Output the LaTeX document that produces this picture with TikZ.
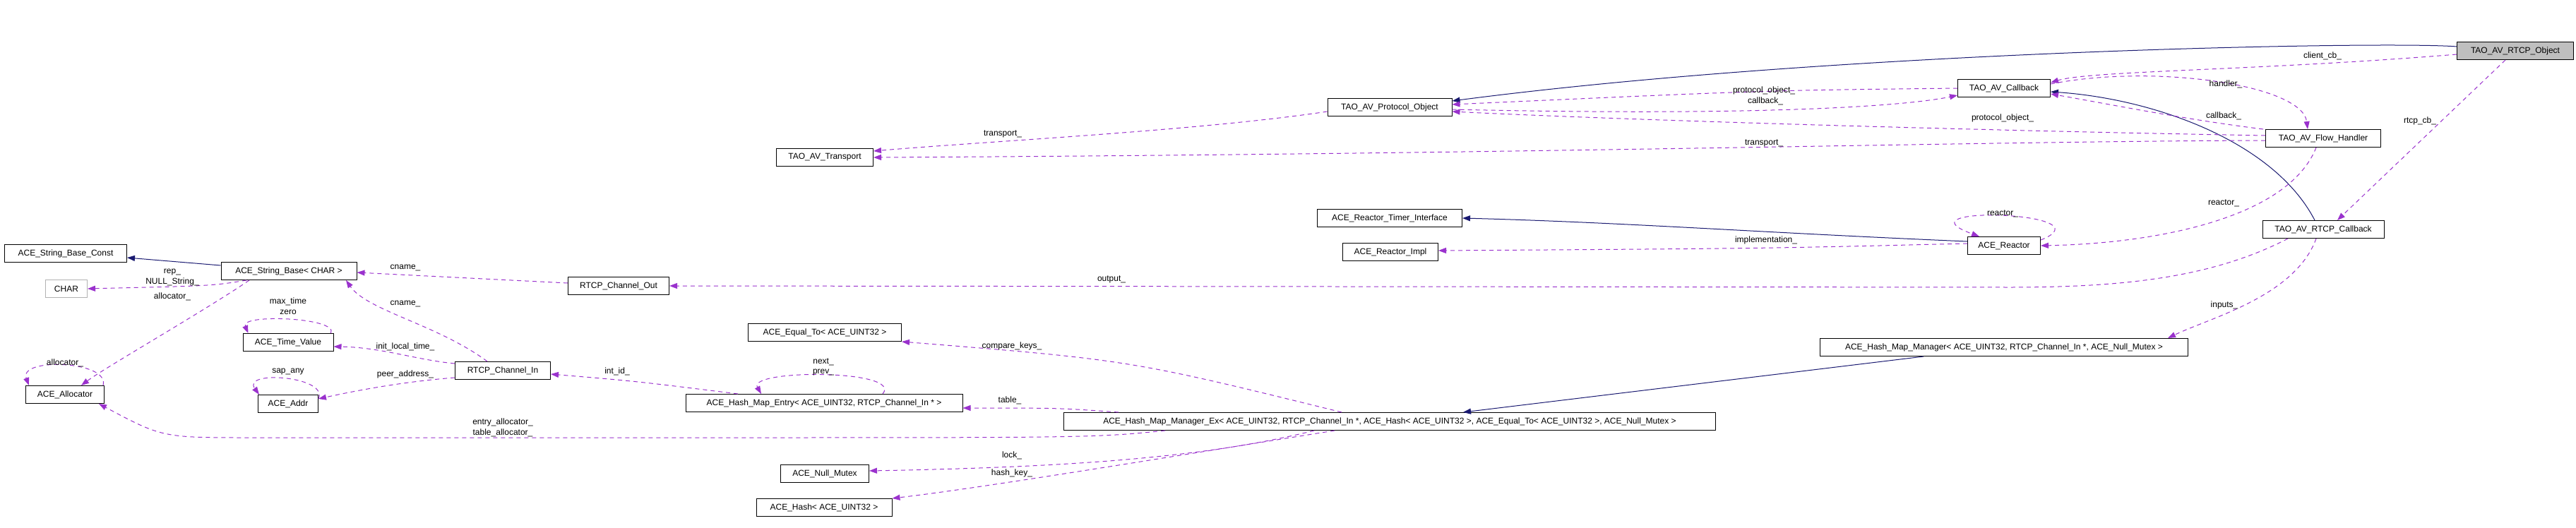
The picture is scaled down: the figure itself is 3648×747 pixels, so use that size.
\documentclass[tikz,border=0pt]{standalone}
\usepackage{fontspec}
\setmainfont{Liberation Sans}
\usetikzlibrary{arrows.meta}
\definecolor{dep}{HTML}{9A32CD}
\definecolor{inh}{HTML}{191970}
\begin{document}
\begin{tikzpicture}[x=1pt,y=-1pt,
  box/.style={draw,fill=white,minimum height=25pt,inner sep=0pt,font=\fontsize{12}{13}\selectfont,line width=1pt},
  lbl/.style={font=\fontsize{12}{13}\selectfont,inner sep=0pt},
  depl/.style={draw=dep,dash pattern=on 6pt off 5pt,line width=1pt,-{Triangle[length=11pt,width=8pt,fill=dep]}},
  inhl/.style={draw=inh,line width=1pt,-{Triangle[length=11pt,width=8pt,fill=inh]}}]
\useasboundingbox (0,0) rectangle (3648,747);
% nodes
\node[box,minimum width=165pt,fill=black!25] (rtcpobj) at (3562,72) {TAO\_AV\_RTCP\_Object};
\node[box,minimum width=131pt] (cb) at (2838,125) {TAO\_AV\_Callback};
\node[box,minimum width=176pt] (proto) at (1968,152) {TAO\_AV\_Protocol\_Object};
\node[box,minimum width=163pt] (flow) at (3290,196) {TAO\_AV\_Flow\_Handler};
\node[box,minimum width=137pt] (transport) at (1168,223) {TAO\_AV\_Transport};
\node[box,minimum width=205pt] (rti) at (1968,309) {ACE\_Reactor\_Timer\_Interface};
\node[box,minimum width=135pt] (rimpl) at (1969,357) {ACE\_Reactor\_Impl};
\node[box,minimum width=103pt] (reactor) at (2838,348) {ACE\_Reactor};
\node[box,minimum width=172pt] (rtcpcb) at (3290,325) {TAO\_AV\_RTCP\_Callback};
\node[box,minimum width=521pt] (hmm) at (2838,492) {ACE\_Hash\_Map\_Manager< ACE\_UINT32, RTCP\_Channel\_In *, ACE\_Null\_Mutex >};
\node[box,minimum width=923pt] (hmmex) at (1968,597) {ACE\_Hash\_Map\_Manager\_Ex< ACE\_UINT32, RTCP\_Channel\_In *, ACE\_Hash< ACE\_UINT32 >, ACE\_Equal\_To< ACE\_UINT32 >, ACE\_Null\_Mutex >};
\node[box,minimum width=217pt] (equal) at (1168,471) {ACE\_Equal\_To< ACE\_UINT32 >};
\node[box,minimum width=392pt] (entry) at (1167,571) {ACE\_Hash\_Map\_Entry< ACE\_UINT32, RTCP\_Channel\_In * >};
\node[box,minimum width=125pt] (nullmx) at (1168,671) {ACE\_Null\_Mutex};
\node[box,minimum width=192pt] (hash) at (1167,719) {ACE\_Hash< ACE\_UINT32 >};
\node[box,minimum width=143pt] (out) at (876,405) {RTCP\_Channel\_Out};
\node[box,minimum width=135pt] (chin) at (712,525) {RTCP\_Channel\_In};
\node[box,minimum width=173pt] (sbc) at (93,359) {ACE\_String\_Base\_Const};
\node[box,minimum width=192pt] (sb) at (409,384) {ACE\_String\_Base< CHAR >};
\node[box,minimum width=59pt,draw=black!30] (char) at (94,409) {CHAR};
\node[box,minimum width=111pt] (alloc) at (92,559) {ACE\_Allocator};
\node[box,minimum width=128pt] (tv) at (408,485) {ACE\_Time\_Value};
\node[box,minimum width=85pt] (addr) at (408,572) {ACE\_Addr};
% inheritance
\draw[inhl] ([yshift=6pt]rtcpobj.west) .. controls (3380,58) and (2600,72) .. ([yshift=-4pt]proto.north east);
\draw[inhl] ([xshift=-12pt]rtcpcb.north) .. controls (3220,200) and (3050,140) .. ([yshift=-5pt]cb.east);
\draw[inhl] ([yshift=6pt]reactor.west) .. controls (2500,330) and (2300,315) .. (rti.east);
\draw[inhl] ([yshift=8pt]sb.west) -- ([yshift=-6pt]sbc.east);
\draw[inhl] ([xshift=-114pt]hmm.south) -- ([xshift=104pt]hmmex.north);
% dependencies
\draw[depl] ([yshift=-5pt]rtcpobj.west) .. controls (3200,100) and (2960,100) .. ([yshift=8pt]cb.east);
\draw[depl] ([xshift=-14pt]rtcpobj.south) -- ([xshift=20pt]rtcpcb.north);
\draw[depl] (cb.west) .. controls (2500,128) .. ([yshift=4pt]proto.east);
\draw[depl] ([yshift=-3pt]proto.east) .. controls (2500,165) and (2700,150) .. ([yshift=-10pt]cb.west);
\draw[depl] ([yshift=6pt]cb.east) .. controls (3050,90) and (3260,120) .. ([xshift=-22pt]flow.north);
\draw[depl] ([xshift=-3pt]flow.north west) .. controls (3100,170) and (3000,150) .. ([yshift=-8pt]cb.east);
\draw[depl] ([yshift=4pt]flow.west) .. controls (2800,185) and (2300,170) .. ([yshift=-6pt]proto.east);
\draw[depl] ([yshift=-3pt]flow.west) .. controls (2800,200) and (2200,218) .. (transport.east);
\draw[depl] ([yshift=-6pt]proto.west) .. controls (1700,185) and (1400,200) .. ([yshift=9pt]transport.east);
\draw[depl] ([xshift=-10pt]flow.south) .. controls (3240,310) and (3050,345) .. (reactor.east);
\draw[depl] ([yshift=8pt]reactor.east) .. controls (2990,300) and (2680,290) .. ([xshift=-35pt]reactor.north);
\draw[depl] ([yshift=3pt]reactor.west) .. controls (2500,352) .. ([yshift=2pt]rimpl.east);
\draw[depl] ([xshift=-50pt]rtcpcb.south) .. controls (3130,395) and (3000,407) .. (2845,407) -- (out.east);
\draw[depl] ([xshift=-10pt]rtcpcb.south) .. controls (3250,420) and (3130,450) .. ([xshift=232pt]hmm.north);
\draw[depl] ([yshift=4pt]out.west) -- ([yshift=-2pt]sb.east);
\draw[depl] ([xshift=-22pt]chin.north) .. controls (620,460) and (520,440) .. ([xshift=81pt]sb.south);
\draw[depl] ([yshift=10pt]chin.west) .. controls (590,510) and (540,492) .. ([yshift=-6pt]tv.east);
\draw[depl] ([yshift=-10pt]chin.west) .. controls (580,540) and (520,550) .. ([yshift=7pt]addr.east);
\draw[depl] ([xshift=-4pt]tv.north east) .. controls +(12,-22) and +(-12,-28) .. ([xshift=8pt]tv.north west);
\draw[depl] ([yshift=-6pt]addr.north east) .. controls +(15,-32) and +(-25,-35) .. ([xshift=2pt]addr.north west);
\draw[depl] ([xshift=-60pt]sb.south) .. controls (300,405) .. (char.east);
\draw[depl] ([xshift=-56pt]sb.south) .. controls (290,440) and (150,520) .. ([xshift=23pt]alloc.north);
\draw[depl] ([xshift=-2pt]alloc.north east) .. controls +(10,-35) and +(-15,-40) .. ([xshift=5pt]alloc.north west);
\draw[depl] ([xshift=-122pt]entry.north) .. controls (900,540) .. ([yshift=-5pt]chin.east);
\draw[depl] ([xshift=83pt]entry.north) .. controls +(30,-35) and +(-20,-35) .. ([xshift=-89pt]entry.north);
\draw[depl] ([xshift=-384pt]hmmex.north) .. controls (1500,578) .. ([yshift=-7pt]entry.east);
\draw[depl] ([xshift=-68pt]hmmex.north) .. controls (1600,510) .. (equal.south east);
\draw[depl] ([xshift=-318pt]hmmex.south) .. controls (1550,620) .. (1000,620) -- (355,620) .. controls (230,620) .. ([xshift=48pt]alloc.south);
\draw[depl] ([xshift=-107pt]hmmex.south) .. controls (1700,650) and (1500,662) .. ([yshift=4pt]nullmx.east);
\draw[depl] ([xshift=-78pt]hmmex.south) .. controls (1700,640) and (1400,690) .. (hash.north east);
% labels
\node[lbl] (l1) at (3289,79) {client\_cb\_};
\node[lbl] (l2) at (3427,171) {rtcp\_cb\_};
\node[lbl] (l3) at (2498,128) {protocol\_object\_};
\node[lbl] (l4) at (2500,143) {callback\_};
\node[lbl] (l5) at (3152,119) {handler\_};
\node[lbl] (l6) at (3149,164) {callback\_};
\node[lbl] (l7) at (2836,167) {protocol\_object\_};
\node[lbl] (l8) at (2498,203) {transport\_};
\node[lbl] (l9) at (1420,190) {transport\_};
\node[lbl] (l10) at (3149,288) {reactor\_};
\node[lbl] (l11) at (2836,303) {reactor\_};
\node[lbl] (l12) at (2501,340) {implementation\_};
\node[lbl] (l13) at (1574,396) {output\_};
\node[lbl] (l14) at (3150,432) {inputs\_};
\node[lbl] (l15) at (574,379) {cname\_};
\node[lbl] (l16) at (574,430) {cname\_};
\node[lbl] (l17) at (574,491) {init\_local\_time\_};
\node[lbl] (l18) at (574,530) {peer\_address\_};
\node[lbl] (l19) at (408,427) {max\_time};
\node[lbl] (l20) at (408,442) {zero};
\node[lbl] (l21) at (408,527) {sap\_any};
\node[lbl] (l22) at (244,386) {rep\_};
\node[lbl] (l23) at (244,399) {NULL\_String\_};
\node[lbl] (l24) at (244,420) {allocator\_};
\node[lbl] (l25) at (92,514) {allocator\_};
\node[lbl] (l26) at (874,526) {int\_id\_};
\node[lbl] (l27) at (1166,513) {next\_};
\node[lbl] (l28) at (1166,528) {prev\_};
\node[lbl] (l29) at (1430,567) {table\_};
\node[lbl] (l30) at (1433,490) {compare\_keys\_};
\node[lbl] (l31) at (712,598) {entry\_allocator\_};
\node[lbl] (l32) at (712,613) {table\_allocator\_};
\node[lbl] (l33) at (1433,645) {lock\_};
\node[lbl] (l34) at (1433,670) {hash\_key\_};
\end{tikzpicture}
\end{document}
